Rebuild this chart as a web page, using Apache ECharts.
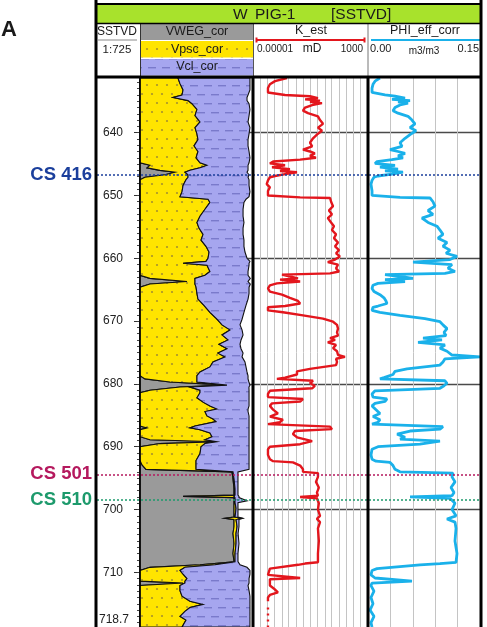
<!DOCTYPE html>
<html>
<head>
<meta charset="utf-8">
<script src="https://cdn.jsdelivr.net/npm/echarts@6/dist/echarts.min.js"></script>
<style>
  html, body { margin: 0; padding: 0; background: #fff; }
  #chart { width: 487px; height: 627px; }
</style>
</head>
<body>
<div id="chart"></div>
<script>
// ---- Depth frame (SSTVD, m) ----
const depthTop = 631.3;
const depthBase = 718.7;
const depthLabels = [640, 650, 660, 670, 680, 690, 700, 710, 718.7];
const depthMajor = [640, 650, 660, 670, 680, 690, 700, 710];
const depthMinor = [];
for (let d = 632; d <= 718; d++) depthMinor.push(d);
const refLines = [640, 660, 680, 700];

// ---- Sequence surfaces ----
const surfaceNames = ['CS 416', 'CS 501', 'CS 510'];
const surfaceDepths = [646.7, 694.4, 698.4];
const surfaceColors = ['#1b3f9c', '#b5195e', '#1d9a6c'];

// ---- Lithology volumes (fractions) ----
const lithDepth = [
  631.3, 632.2, 633.2, 634.0, 634.4, 634.9, 635.4, 636.3, 637.3, 638.3,
  639.2, 640.2, 641.1, 642.1, 643.0, 644.0, 644.8, 645.2, 645.6, 646.0,
  646.3, 646.7, 647.1, 647.5, 648.4, 649.4, 650.2, 650.6, 651.1, 652.2,
  653.3, 654.3, 655.2, 656.2, 657.1, 658.1, 659.0, 660.0, 660.5, 660.8,
  661.1, 662.1, 662.7, 663.2, 663.7, 664.1, 664.6, 665.6, 666.5, 667.5,
  668.6, 669.7, 670.6, 671.4, 672.2, 673.0, 673.7, 674.4, 675.1, 675.7,
  676.5, 677.3, 678.1, 678.7, 679.2, 679.7, 680.2, 680.5, 681.0, 681.4,
  682.2, 682.9, 683.5, 684.0, 684.4, 685.1, 685.6, 686.0, 686.7, 687.0,
  687.3, 687.8, 688.4, 688.9, 689.2, 689.5, 690.0, 691.1, 692.2, 692.9,
  693.6, 694.0, 695.1, 696.7, 697.7, 697.9, 698.1, 698.6, 698.9, 699.8,
  701.2, 701.4, 701.6, 702.7, 703.8, 705.4, 707.0, 708.3, 708.8, 709.2,
  709.7, 710.3, 711.0, 711.4, 711.7, 712.1, 712.9, 713.8, 714.6, 715.1,
  715.6, 716.2, 717.0, 717.6, 718.7
];
const vweg = [
  0, 0, 0, 0, 0, 0, 0, 0, 0, 0,
  0, 0, 0, 0, 0, 0, 0, .088, .062, .177,
  .310, .221, .044, 0, 0, 0, 0, 0, 0, 0,
  0, 0, 0, 0, 0, 0, 0, 0, 0, 0,
  0, 0, 0, .088, .416, .088, 0, 0, 0, 0,
  0, 0, 0, 0, 0, 0, 0, 0, 0, 0,
  0, 0, 0, 0, .044, .265, .770, .354, .088, 0,
  0, 0, 0, 0, 0, 0, 0, 0, 0, .062,
  0, 0, 0, .088, .681, .177, 0, 0, 0, .018,
  .053, .814, .823, .832, .832, .381, .832, .832, .832, .832,
  .832, .752, .832, .832, .823, .832, .823, .832, .531, .088,
  0, 0, 0, 0, .381, 0, 0, 0, 0, 0,
  0, 0, 0, 0, 0
];
const vpsc = [
  .336, .354, .381, .372, .292, .425, .460, .504, .487, .531,
  .487, .504, .513, .478, .513, .496, .531, .505, .469, .265,
  .088, .204, .381, .407, .381, .372, .354, .602, .619, .575,
  .531, .504, .522, .558, .540, .584, .611, .602, .584, .381,
  .593, .619, .575, .398, .071, .398, .496, .504, .513, .566,
  .619, .681, .726, .796, .726, .779, .699, .770, .690, .752,
  .646, .619, .531, .504, .460, .239, 0, .088, .443, .531,
  .504, .558, .619, .681, .575, .593, .646, .673, .487, .380,
  .531, .619, .637, .487, 0, .398, .540, .531, .496, .478,
  .443, .009, .009, .009, .009, .451, .009, .009, .009, .018,
  .009, .150, .018, .027, .027, .018, .018, .009, .133, .310,
  .354, .381, .416, .398, .017, .354, .354, .372, .442, .558,
  .442, .398, .354, .407, .372
];
const vcl = [
  .637, .619, .592, .584, .655, .522, .505, .469, .478, .425,
  .486, .461, .443, .478, .452, .477, .434, .363, .425, .514,
  .549, .540, .531, .558, .584, .601, .611, .336, .301, .337,
  .381, .416, .390, .354, .380, .336, .318, .345, .389, .584,
  .372, .337, .381, .490, .469, .490, .469, .461, .443, .372,
  .301, .222, .159, .107, .186, .115, .186, .124, .222, .151,
  .283, .319, .416, .452, .452, .460, .203, .522, .434, .434,
  .461, .407, .346, .275, .381, .372, .319, .292, .478, .523,
  .434, .346, .328, .390, .284, .390, .425, .434, .469, .469,
  .469, .044, .035, .026, .026, .044, .035, .106, .026, .017,
  .026, .009, .026, .017, .018, .026, .026, .026, .221, .549,
  .619, .592, .549, .567, .567, .602, .611, .601, .531, .415,
  .531, .575, .619, .566, .601
];

// ---- Permeability K_est (mD) ----
const kDepth = [
  631.3, 631.8, 632.3, 632.9, 633.6, 634.0, 634.2, 634.5, 634.7, 634.9,
  635.1, 635.3, 635.6, 636.0, 636.5, 636.9, 637.4, 638.0, 638.6, 639.2,
  639.7, 640.3, 640.9, 641.6, 642.2, 642.7, 643.0, 643.3, 643.7, 644.0,
  644.3, 644.6, 644.9, 645.2, 645.5, 645.8, 646.1, 646.3, 646.6, 646.9,
  647.1, 647.6, 648.2, 648.7, 649.3, 650.0, 650.3, 650.4, 651.0, 651.7,
  652.4, 653.0, 653.6, 654.3, 654.9, 655.5, 656.2, 656.8, 657.5, 658.1,
  658.7, 659.2, 659.7, 660.2, 660.6, 661.0, 661.6, 662.1, 662.4, 662.6,
  662.9, 663.2, 663.4, 663.7, 664.0, 664.3, 664.8, 665.3, 665.8, 666.3,
  666.8, 667.2, 667.6, 667.8, 668.3, 668.6, 669.1, 669.6, 670.1, 670.6,
  671.2, 671.8, 672.3, 672.7, 673.0, 673.4, 673.8, 674.3, 674.8, 675.4,
  675.7, 676.0, 676.5, 677.0, 677.6, 678.0, 678.5, 679.0, 679.2, 679.5,
  679.9, 680.3, 680.7, 681.1, 681.6, 682.1, 682.4, 682.8, 683.1, 683.5,
  684.1, 684.7, 685.2, 685.7, 686.1, 686.4, 686.8, 687.2, 687.5, 688.0,
  688.5, 688.8, 689.1, 689.6, 690.0, 690.4, 691.3, 692.0, 692.3, 692.5,
  693.0, 693.6, 694.0, 694.2, 694.8, 695.6, 696.5, 697.3, 697.8, 698.0,
  698.2, 699.0, 700.0, 701.0, 701.5, 702.0, 703.0, 705.0, 707.0, 708.4,
  708.6, 708.8, 709.4, 709.7, 710.4, 710.9, 711.1, 711.4, 712.1, 712.6,
  713.2, 713.6, 714.0, 714.6
];
const kEst = [
  0.0023, 0.00034, 0.00015, 0.00011, 0.00011, 0.0017, 0.092, 0.33, 0.042, 0.46,
  0.092, 0.63, 0.13, 0.042, 0.030, 0.067, 0.33, 0.46, 0.74, 0.33,
  0.63, 0.28, 0.15, 0.092, 0.13, 0.030, 0.092, 0.20, 0.092, 0.24,
  0.019, 0.00025, 0.00015, 0.0017, 0.00021, 0.0037, 0.00076, 0.0115, 0.0017, 0.00034,
  0.00015, 0.00011, 0.00009, 0.00015, 0.00011, 0.00011, 0.019, 2.3, 2.7, 3.7,
  1.9, 3.1, 1.6, 2.7, 4.3, 3.1, 6.0, 4.3, 8.2, 5.1,
  9.6, 6.0, 11, 5.1, 1.6, 8.2, 6.0, 9.6, 2.3, 0.00104,
  0.0037, 0.0135, 0.00076, 0.019, 0.00046, 0.00015, 0.00011, 0.00015, 0.00104, 0.0037,
  0.0135, 0.019, 0.0017, 0.00011, 0.00011, 0.0012, 0.030, 0.74, 3.7, 7.0,
  8.2, 7.0, 8.2, 2.3, 5.1, 1.6, 6.0, 3.7, 7.0, 8.2,
  25, 6.0, 7.0, 6.0, 0.092, 0.0115, 0.0115, 0.0017, 0.00046, 0.15,
  0.092, 0.20, 0.13, 0.00015, 0.00011, 0.00011, 0.030, 0.019, 0.00021, 0.00015,
  0.00025, 0.00054, 0.00015, 0.0012, 0.00076, 0.00011, 2.3, 3.1, 0.0084, 0.006,
  0.0115, 0.0084, 0.13, 0.019, 0.00015, 0.00011, 0.00011, 0.00015, 0.00025, 0.006,
  0.019, 0.030, 0.030, 0.33, 0.33, 0.24, 0.38, 0.28, 0.33, 0.019,
  0.28, 0.38, 0.33, 0.46, 0.28, 0.46, 0.33, 0.38, 0.33, 0.33,
  0.042, 0.0135, 0.00015, 0.00011, 0.00011, 0.019, 0.00015, 0.00011, 0.00015, 0.00029,
  0.00054, 0.00015, 0.00011, 0.00011
];
const kTailDepth = [715.6, 718.7];
const kTail = [0.00011, 0.00011];
const kGrid = [1e-5, 3e-5, 1e-4, 3e-4, 1e-3, 3e-3, 0.01, 0.03, 0.1, 0.3, 1, 3, 10, 30, 100, 300, 1000];

// ---- Effective porosity PHI_eff_corr (m3/m3) ----
const phiDepth = [
  631.3, 631.8, 632.3, 632.9, 633.6, 634.0, 634.2, 634.5, 634.7, 634.9,
  635.1, 635.3, 635.6, 636.0, 636.5, 636.9, 637.4, 638.0, 638.6, 639.2,
  639.7, 640.3, 640.9, 641.6, 642.2, 642.7, 643.0, 643.3, 643.7, 644.0,
  644.3, 644.6, 644.9, 645.2, 645.5, 645.8, 646.1, 646.3, 646.6, 646.9,
  647.1, 647.6, 648.2, 649.3, 650.0, 650.3, 650.4, 651.0, 651.7, 652.4,
  653.0, 653.6, 654.3, 654.9, 655.5, 656.2, 656.8, 657.5, 658.1, 658.7,
  659.2, 659.7, 660.2, 660.6, 661.0, 661.6, 662.1, 662.4, 662.6, 662.9,
  663.2, 663.4, 663.7, 664.0, 664.3, 664.8, 665.3, 665.8, 666.3, 666.8,
  667.2, 667.6, 667.8, 668.3, 668.6, 669.1, 669.6, 670.1, 670.6, 671.2,
  671.8, 672.3, 672.7, 673.0, 673.4, 673.8, 674.3, 674.8, 675.4, 675.7,
  676.0, 676.5, 677.0, 677.6, 678.0, 678.5, 679.0, 679.2, 679.5, 679.9,
  680.3, 680.7, 681.1, 681.6, 682.1, 682.4, 682.8, 683.1, 683.5, 684.1,
  684.7, 685.2, 685.7, 686.1, 686.4, 686.8, 687.2, 687.5, 688.0, 688.5,
  688.8, 689.1, 689.6, 690.0, 690.4, 691.3, 692.0, 692.3, 692.5, 693.0,
  693.6, 694.0, 694.2, 694.8, 695.6, 696.5, 697.3, 697.8, 698.0, 698.2,
  699.0, 700.0, 701.0, 701.5, 702.0, 703.0, 705.0, 707.0, 708.4, 708.6,
  708.8, 709.4, 709.7, 710.4, 710.9, 711.4, 711.7, 712.1, 713.0, 714.0,
  715.0, 716.0, 717.0, 718.0, 718.7
];
const phiEff = [
  .016, .0094, .0067, .0054, .0054, .0228, .0362, .0496, .0321, .0563,
  .0402, .0536, .0429, .0362, .0335, .0402, .0536, .0589, .0629, .0563,
  .0643, .0563, .0496, .0429, .0455, .0295, .0402, .0496, .0402, .0469,
  .0321, .0121, .0094, .0362, .016, .0402, .0228, .0469, .0321, .0134,
  .008, .0054, .004, .0054, .0054, .0429, .083, .087, .0897, .0804,
  .087, .0723, .0804, .0924, .0964, .1004, .0938, .1058, .1004, .1098,
  .1045, .1192, .1098, .0603, .1125, .1071, .1165, .1031, .0228, .0429,
  .0603, .0228, .0496, .0134, .0067, .0054, .008, .016, .0214, .0241,
  .0254, .0134, .0067, .0054, .016, .0429, .0763, .0964, .1004, .1058,
  .1018, .1045, .0737, .0991, .067, .1031, .0964, .1058, .1125, .15,
  .1031, .1004, .0964, .0522, .0362, .0335, .0214, .016, .1031, .1058,
  .1018, .0964, .0094, .0054, .0067, .0254, .0228, .0094, .0054, .0107,
  .016, .0067, .016, .0134, .0054, .1004, .0964, .0563, .039, .0496,
  .0429, .0964, .0696, .0134, .0054, .004, .0054, .0107, .0295, .0335,
  .0362, .0429, .1138, .1125, .1165, .1112, .1152, .1125, .0563, .1098,
  .1165, .1125, .1179, .1058, .1165, .1179, .1165, .1192, .1179, .0964,
  .0696, .0121, .0054, .004, .0094, .0589, .0054, .004, .008, .004,
  .0067, .0027, .008, .004, .0054
];

// ---- Styling ----
const FONT = '"Liberation Sans", Arial, Helvetica, sans-serif';
const GREY = '#9a9a9a';
const YELLOW = '#ffe400';
const PURPLE = '#a6a6ef';
const K_RED = '#e3161d';
const PHI_BLUE = '#1ab1ea';

function sandPattern() {
  const c = document.createElement('canvas');
  c.width = 10; c.height = 18;
  const g = c.getContext('2d');
  g.fillStyle = YELLOW; g.fillRect(0, 0, 10, 18);
  g.fillStyle = '#a8922e';
  [[2, 4], [7, 13]].forEach(function (p) {
    g.beginPath(); g.arc(p[0], p[1], 1.1, 0, Math.PI * 2); g.fill();
  });
  return { image: c, repeat: 'repeat' };
}
function clayPattern() {
  const c = document.createElement('canvas');
  c.width = 14; c.height = 18;
  const g = c.getContext('2d');
  g.fillStyle = PURPLE; g.fillRect(0, 0, 14, 18);
  g.fillStyle = '#7a7acb';
  g.fillRect(1, 4, 8, 1.4);
  g.fillRect(8, 13, 6, 1.4);
  g.fillRect(0, 13, 2, 1.4);
  return { image: c, repeat: 'repeat' };
}
const sandFill = sandPattern();
const clayFill = clayPattern();

// cumulative boundaries of the stacked volumes
const edgeZero = lithDepth.map(function () { return 0; });
const edgeWeg = vweg.slice();
const edgeSand = vweg.map(function (v, i) { return v + vpsc[i]; });
const edgeClay = edgeSand.map(function (v, i) { return v + vcl[i]; });

function bandRenderer(lower, upper, fill) {
  return function (params, api) {
    const pts = [];
    for (let i = 0; i < lithDepth.length; i++) pts.push(api.coord([lower[i], lithDepth[i]]));
    for (let i = lithDepth.length - 1; i >= 0; i--) pts.push(api.coord([upper[i], lithDepth[i]]));
    return {
      type: 'polygon',
      shape: { points: pts },
      style: { fill: fill, stroke: '#111', lineWidth: 1.1 }
    };
  };
}

// ---- Layout ----
const PLOT_TOP = 78;
const PLOT_H = 551;
const grids = [
  { left: 97, top: PLOT_TOP, width: 43, height: PLOT_H },   // depth
  { left: 140, top: PLOT_TOP, width: 113, height: PLOT_H }, // lithology
  { left: 253, top: PLOT_TOP, width: 115, height: PLOT_H }, // K_est
  { left: 368, top: PLOT_TOP, width: 112, height: PLOT_H }, // PHI
  { left: 97, top: PLOT_TOP, width: 384, height: PLOT_H }   // surfaces overlay
];

function depthAxis(gridIndex, extra) {
  return Object.assign({
    type: 'value', gridIndex: gridIndex, inverse: true,
    min: depthTop, max: depthBase,
    axisLine: { show: false, onZero: false }, axisTick: { show: false }, axisLabel: { show: false },
    splitLine: { show: false }
  }, extra || {});
}
const refSplit = {
  axisTick: { show: false, customValues: refLines },
  splitLine: { show: true, lineStyle: { color: '#4a4a4a', width: 1.4 } }
};

const yAxes = [
  depthAxis(0, {
    position: 'right',
    axisLine: { show: true, onZero: false, lineStyle: { color: '#111', width: 1.5 } },
    axisTick: { show: true, inside: true, length: 6, customValues: depthMajor, lineStyle: { color: '#333', width: 1 } },
    axisLabel: {
      show: true, inside: true, margin: 11, customValues: depthLabels,
      fontFamily: FONT, fontSize: 12, color: '#222',
      formatter: function (v) { return v === depthBase ? '{e|' + v + '}' : '{n|' + v + '}'; },
      rich: {
        n: { fontFamily: FONT, fontSize: 12, color: '#222', padding: [0, 6, 0, 0] },
        e: { fontFamily: FONT, fontSize: 12, color: '#222', padding: [0, 0, 14, 0] }
      }
    }
  }),
  // metre ticks: a left-side axis shifted onto the right edge of the depth track
  depthAxis(0, {
    position: 'left', offset: -43,
    axisTick: { show: true, inside: false, length: 3, customValues: depthMinor, lineStyle: { color: '#444', width: 1 } }
  }),
  depthAxis(1, refSplit),
  depthAxis(2, refSplit),
  depthAxis(3, refSplit),
  depthAxis(4, { show: false })
];

const hidden = { axisLine: { show: false }, axisTick: { show: false }, axisLabel: { show: false } };
const xAxes = [
  Object.assign({ type: 'value', gridIndex: 0, min: 0, max: 1, splitLine: { show: false } }, hidden),
  Object.assign({ type: 'value', gridIndex: 1, min: 0, max: 1, splitLine: { show: false } }, hidden),
  {
    type: 'log', gridIndex: 2, logBase: 10, min: 1e-5, max: 1000,
    axisLine: { show: false }, axisLabel: { show: false },
    axisTick: { show: false, customValues: kGrid },
    splitLine: { show: true, lineStyle: { color: '#c4c4c4', width: 1 } }
  },
  Object.assign({
    type: 'value', gridIndex: 3, min: 0, max: 0.15, interval: 0.03,
    splitLine: { show: true, lineStyle: { color: '#c4c4c4', width: 1 } }
  }, hidden),
  Object.assign({ type: 'value', gridIndex: 4, min: 0, max: 1, show: false }, hidden)
];

const series = [
  { type: 'custom', name: 'VWEG_cor', xAxisIndex: 1, yAxisIndex: 2, data: [[0, 640]], silent: true, z: 2,
    renderItem: bandRenderer(edgeZero, edgeWeg, GREY) },
  { type: 'custom', name: 'Vpsc_cor', xAxisIndex: 1, yAxisIndex: 2, data: [[0, 640]], silent: true, z: 3,
    renderItem: bandRenderer(edgeWeg, edgeSand, sandFill) },
  { type: 'custom', name: 'Vcl_cor', xAxisIndex: 1, yAxisIndex: 2, data: [[0, 640]], silent: true, z: 4,
    renderItem: bandRenderer(edgeSand, edgeClay, clayFill) },
  { type: 'line', name: 'K_est', xAxisIndex: 2, yAxisIndex: 3, z: 3,
    data: kDepth.map(function (d, i) { return [kEst[i], d]; }),
    showSymbol: false, symbol: 'none', lineStyle: { color: K_RED, width: 2.4 } },
  { type: 'line', name: 'K_est tail', xAxisIndex: 2, yAxisIndex: 3, z: 3,
    data: kTailDepth.map(function (d, i) { return [kTail[i], d]; }),
    showSymbol: false, symbol: 'none', lineStyle: { color: K_RED, width: 2.4, type: [2, 4] } },
  { type: 'line', name: 'PHI_eff_corr', xAxisIndex: 3, yAxisIndex: 4, z: 3,
    data: phiDepth.map(function (d, i) { return [phiEff[i], d]; }),
    showSymbol: false, symbol: 'none', lineStyle: { color: PHI_BLUE, width: 2.8 } },
  { type: 'line', name: 'surfaces', xAxisIndex: 4, yAxisIndex: 5, data: [], z: 10,
    markLine: {
      silent: true, symbol: ['none', 'none'], z: 10,
      data: surfaceDepths.map(function (d, i) {
        return {
          name: surfaceNames[i], yAxis: d,
          lineStyle: { color: surfaceColors[i], type: [2, 2], width: 1.5 },
          label: {
            show: true, position: 'start', formatter: '{b}', distance: 5,
            color: surfaceColors[i], fontFamily: FONT, fontSize: 18.5, fontWeight: 'bold'
          }
        };
      })
    }
  }
];

// ---- Header block and frame ----
function txt(x, y, s, size, align, extra) {
  return {
    type: 'text', x: x, y: y, z: 60,
    style: Object.assign({
      text: s, font: (extra && extra.weight ? extra.weight + ' ' : '') + size + 'px ' + FONT,
      fill: (extra && extra.color) || '#1a1a1a',
      align: align, verticalAlign: 'middle', textAlign: align, textVerticalAlign: 'middle'
    })
  };
}
function ln(x1, y1, x2, y2, w, color) {
  return { type: 'line', z: 80, shape: { x1: x1, y1: y1, x2: x2, y2: y2 },
           style: { stroke: color || '#000', lineWidth: w } };
}
function box(x, y, w, h, fill) {
  return { type: 'rect', z: 50, shape: { x: x, y: y, width: w, height: h }, style: { fill: fill } };
}

const graphic = [
  box(97, 5, 383, 18, '#a8e22c'),
  txt(233, 14.5, 'W', 15.5, 'left'),
  txt(255, 14.5, 'PIG-1', 15.5, 'left'),
  txt(331, 14.5, '[SSTVD]', 15.5, 'left'),
  txt(117, 31.5, 'SSTVD', 12, 'center'),
  ln(98, 40, 137, 40, 1, '#8a8a8a'),
  txt(117, 49.5, '1:725', 11.5, 'center'),
  box(141, 24, 112, 16, GREY),
  txt(197, 32, 'VWEG_cor', 12.5, 'center'),
  box(141, 41, 112, 16.5, sandFill),
  txt(197, 49.5, 'Vpsc_cor', 12.5, 'center'),
  box(141, 59, 112, 16.5, clayFill),
  txt(197, 67, 'Vcl_cor', 12.5, 'center'),
  txt(311, 31, 'K_est', 12.5, 'center'),
  ln(256, 40, 365, 40, 2, K_RED),
  ln(256.5, 37.5, 256.5, 42.5, 2, K_RED),
  ln(364.5, 37.5, 364.5, 42.5, 2, K_RED),
  txt(257, 49.5, '0.00001', 10, 'left'),
  txt(312, 49, 'mD', 12, 'center'),
  txt(363, 49, '1000', 10, 'right'),
  txt(425, 31, 'PHI_eff_corr', 12.5, 'center'),
  ln(371, 40, 480, 40, 2, PHI_BLUE),
  txt(370, 49, '0.00', 11, 'left'),
  txt(424, 51, 'm3/m3', 10, 'center'),
  txt(479, 49, '0.15', 11, 'right'),
  ln(140.5, 23, 140.5, 77, 1, '#333'),
  ln(253.5, 23, 253.5, 77, 1, '#555'),
  ln(368, 23, 368, 77, 1, '#777'),
  ln(96, 4, 481, 4, 2),
  ln(96, 23.5, 481, 23.5, 1.5),
  ln(96, 77, 481, 77, 3),
  ln(96, 0, 96, 627, 3),
  ln(481, 0, 481, 627, 3),
  ln(140, 77, 140, 627, 1.5),
  ln(253, 77, 253, 627, 3),
  ln(368, 77, 368, 627, 3),
  txt(1, 30, 'A', 22, 'left', { weight: 'bold' })
];

const chart = echarts.init(document.getElementById('chart'), null, { renderer: 'canvas' });
chart.setOption({
  animation: false,
  backgroundColor: '#ffffff',
  grid: grids,
  xAxis: xAxes,
  yAxis: yAxes,
  series: series,
  graphic: { elements: graphic }
});
</script>
</body>
</html>
